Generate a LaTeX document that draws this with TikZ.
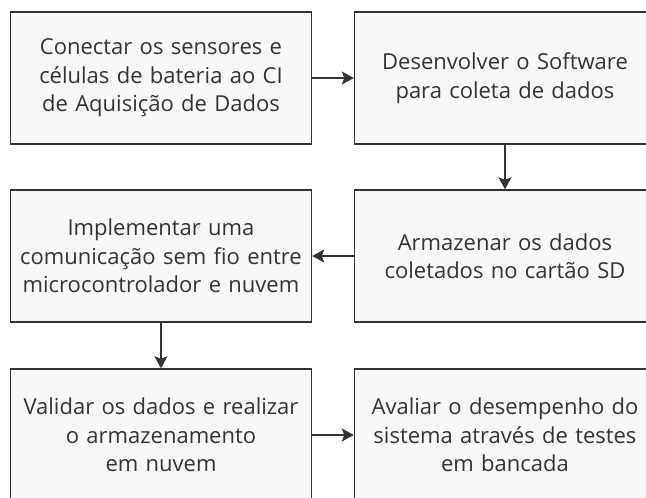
\documentclass[tikz,border=0pt]{standalone}
\usepackage{fontspec}
\setmainfont{Open Sans}
\usepackage{tikz}
\usetikzlibrary{positioning,arrows.meta}

\definecolor{boxfill}{HTML}{F8F8F8}
\definecolor{ink}{HTML}{333333}

\begin{document}
\begin{tikzpicture}[x=1pt,y=-1pt,
    stage/.style={draw=ink, fill=boxfill, line width=1.4pt, rectangle,
        minimum width=301pt, minimum height=132pt, text width=296pt,
        align=center, text=ink, inner sep=0pt,
        font=\fontsize{22pt}{28.5pt}\selectfont},
    flow/.style={draw=ink, line width=1.5pt, -{Stealth[length=12pt,width=13pt,inset=2.5pt]}}]
    \useasboundingbox (0,0) rectangle (646,498);
    \clip (0,0) rectangle (646,498);
    % first row
    \node[stage] (connect) at (161,78) {Conectar os sensores e\\células de bateria ao CI\\de Aquisição de Dados};
    \node[stage] (software) at (505,78) {Desenvolver o Software\\para coleta de dados};
    % second row
    \node[stage] (wireless) at (161,256) {Implementar uma\\comunicação sem fio entre\\microcontrolador e nuvem};
    \node[stage] (sdcard) at (505,256) {Armazenar os dados\\coletados no cartão SD};
    % third row
    \node[stage] (validate) at (161,435) {Validar os dados e realizar\\o armazenamento\\em nuvem};
    \node[stage] (bench) at (505,435) {Avaliar o desempenho do\\sistema através de testes\\em bancada};

    \draw[flow] (connect) -- (software);
    \draw[flow] (software) -- (sdcard);
    \draw[flow] (sdcard) -- (wireless);
    \draw[flow] (wireless) -- (validate);
    \draw[flow] (validate) -- (bench);
\end{tikzpicture}
\end{document}
